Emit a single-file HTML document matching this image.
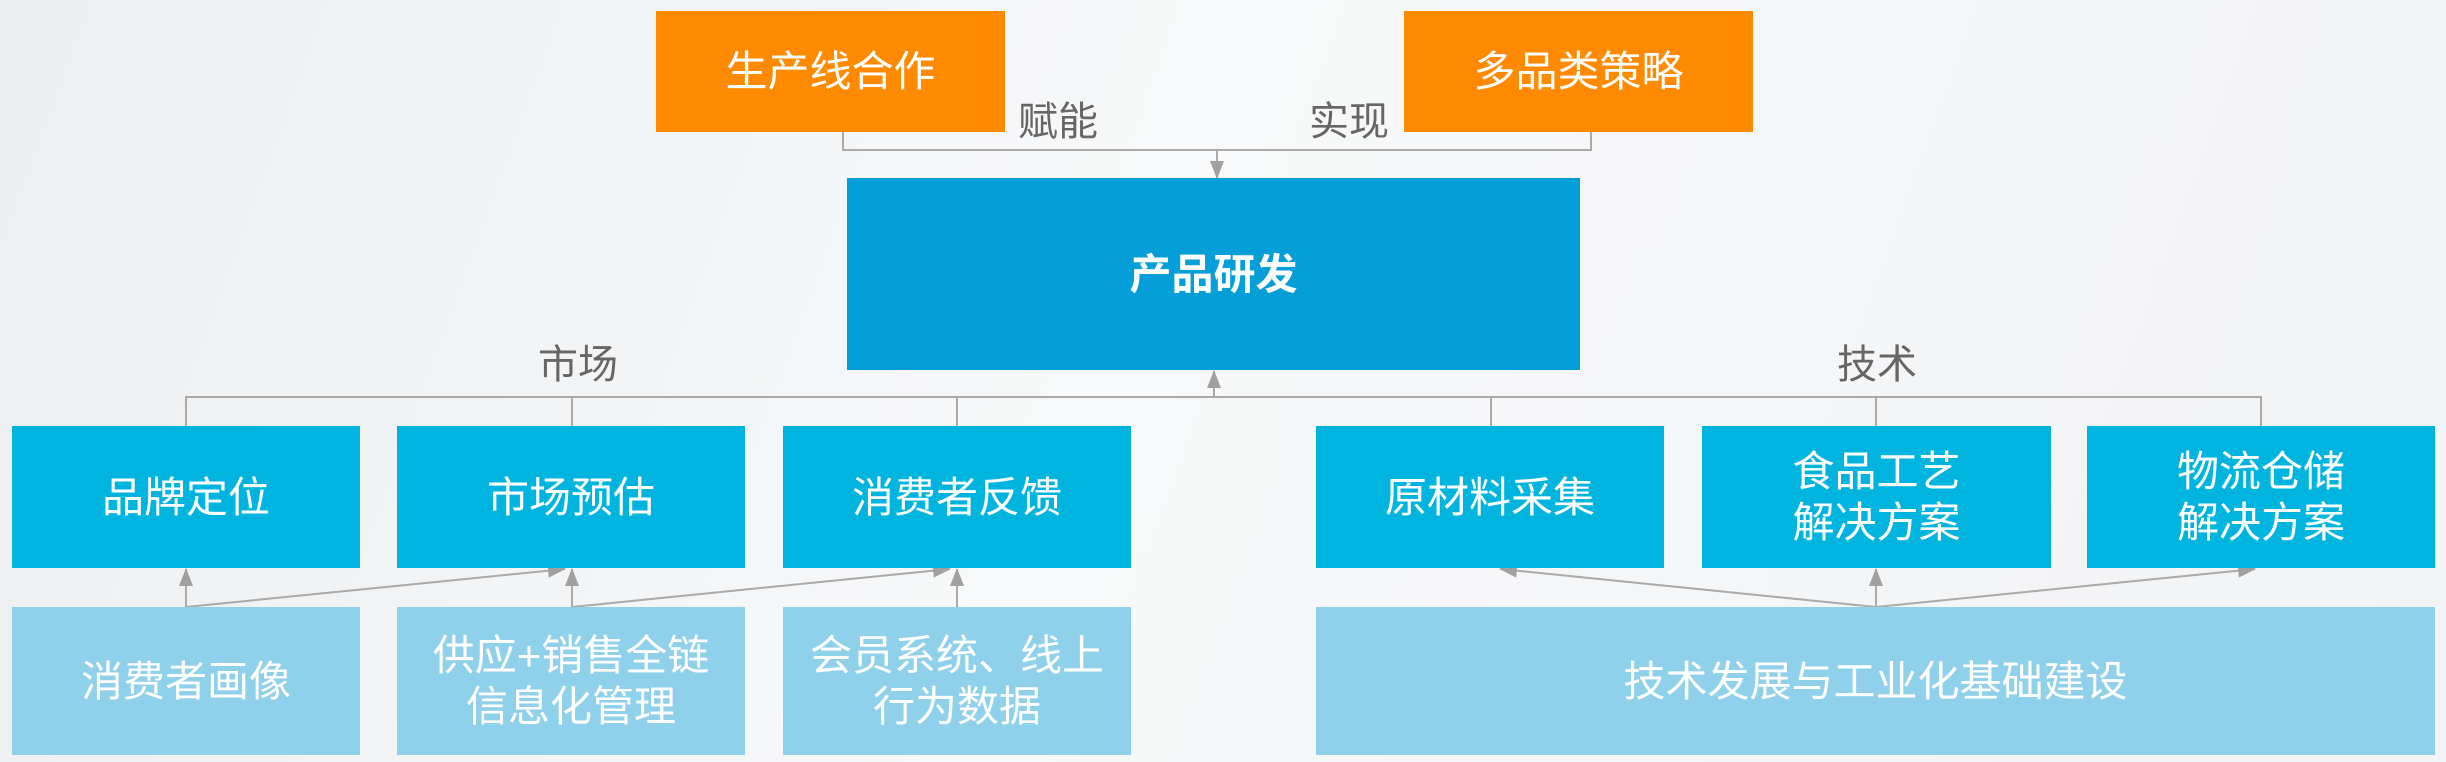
<!DOCTYPE html>
<html><head><meta charset="utf-8"><style>
html,body{margin:0;padding:0}
body{width:2446px;height:762px;position:relative;overflow:hidden;background:linear-gradient(110deg,#eceef0 0%,#f7f8f9 45%,#f2f3f5 100%);font-family:"Liberation Sans","Noto Sans CJK SC",sans-serif}
.b{position:absolute;display:flex;align-items:center;justify-content:center;text-align:center;color:#fff;font-size:42px;line-height:51px}
.o{background:#ff8a00}
.m{background:#049fd9;font-weight:bold}
.r{background:#00b4e0}
.l{background:#8fd1ea}
.t{position:absolute;color:#666;font-size:40px;line-height:40px}
svg{position:absolute;left:0;top:0}
</style></head><body>
<svg width="2446" height="762">
<defs>
<marker id="A" markerWidth="18" markerHeight="18" refX="17" refY="9" orient="auto" markerUnits="userSpaceOnUse" viewBox="0 0 18 18"><path d="M0,2 L18,9 L0,16z" fill="#a0a0a0"/></marker></defs>
<g stroke="#aaa" stroke-width="2" fill="none">
<polyline points="843,132 843,150 1591,150 1591,132"/>
<line x1="1217" y1="150" x2="1217" y2="178" marker-end="url(#A)"/>
<polyline points="186,426 186,397 2261,397 2261,426"/>
<line x1="572" y1="397" x2="572" y2="426"/><line x1="957" y1="397" x2="957" y2="426"/>
<line x1="1491" y1="397" x2="1491" y2="426"/><line x1="1876" y1="397" x2="1876" y2="426"/>
<line x1="1214" y1="397" x2="1214" y2="371" marker-end="url(#A)"/>
<line x1="186" y1="607" x2="186" y2="569" marker-end="url(#A)"/>
<line x1="186" y1="607" x2="565" y2="569" marker-end="url(#A)"/>
<line x1="572" y1="607" x2="572" y2="569" marker-end="url(#A)"/>
<line x1="572" y1="607" x2="950" y2="569" marker-end="url(#A)"/>
<line x1="957" y1="607" x2="957" y2="569" marker-end="url(#A)"/>
<line x1="1876" y1="607" x2="1500" y2="569" marker-end="url(#A)"/>
<line x1="1876" y1="607" x2="1876" y2="569" marker-end="url(#A)"/>
<line x1="1876" y1="607" x2="2255" y2="569" marker-end="url(#A)"/>
</g></svg>
<div class="b o" style="left:656px;top:11px;width:349px;height:121px">生产线合作</div>
<div class="b o" style="left:1404px;top:11px;width:349px;height:121px">多品类策略</div>
<div class="t" style="left:1018px;top:102px">赋能</div>
<div class="t" style="left:1309px;top:102px">实现</div>
<div class="b m" style="left:847px;top:178px;width:733px;height:192px">产品研发</div>
<div class="t" style="left:538px;top:345px">市场</div>
<div class="t" style="left:1837px;top:345px">技术</div>
<div class="b r" style="left:12px;top:426px;width:348px;height:142px">品牌定位</div>
<div class="b r" style="left:397px;top:426px;width:348px;height:142px">市场预估</div>
<div class="b r" style="left:783px;top:426px;width:348px;height:142px">消费者反馈</div>
<div class="b r" style="left:1316px;top:426px;width:348px;height:142px">原材料采集</div>
<div class="b r" style="left:1702px;top:426px;width:349px;height:142px">食品工艺<br>解决方案</div>
<div class="b r" style="left:2087px;top:426px;width:348px;height:142px">物流仓储<br>解决方案</div>
<div class="b l" style="left:12px;top:607px;width:348px;height:148px">消费者画像</div>
<div class="b l" style="left:397px;top:607px;width:348px;height:148px">供应+销售全链<br>信息化管理</div>
<div class="b l" style="left:783px;top:607px;width:348px;height:148px">会员系统、线上<br>行为数据</div>
<div class="b l" style="left:1316px;top:607px;width:1119px;height:148px">技术发展与工业化基础建设</div>
</body></html>
